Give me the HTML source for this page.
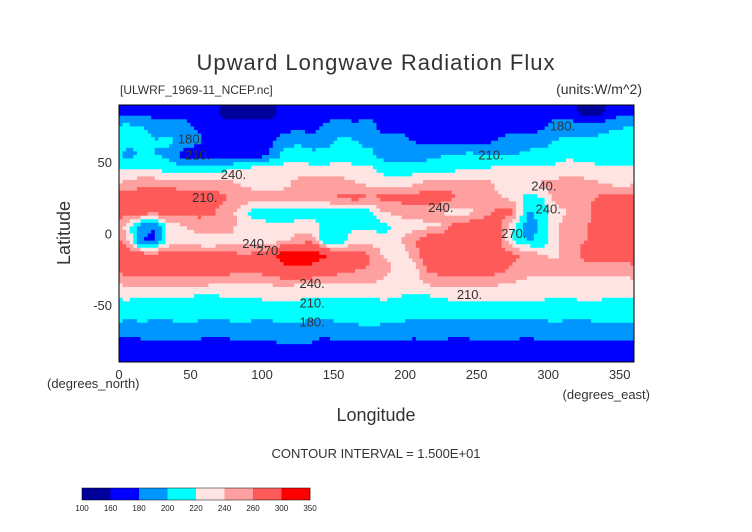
<!DOCTYPE html>
<html><head><meta charset="utf-8"><style>
html,body{margin:0;padding:0;background:#fff;}
svg{display:block;font-family:"Liberation Sans",sans-serif;}
</style></head><body>
<svg id="chart" width="752" height="532" viewBox="0 0 752 532">
<text x="376" y="70" font-size="22" text-anchor="middle" fill="#333" letter-spacing="1">Upward Longwave Radiation Flux</text>
<text x="120" y="94" font-size="12" fill="#333">[ULWRF_1969-11_NCEP.nc]</text>
<text x="642" y="94" font-size="14" text-anchor="end" fill="#333">(units:W/m^2)</text>
<g id="plot"></g>
<g id="labels"></g>
<rect x="119" y="105" width="515" height="257" fill="none" stroke="#000" stroke-width="1"/>
<g id="axes"></g>
<text x="70" y="233" font-size="18" text-anchor="middle" fill="#333" transform="rotate(-90 70 233)">Latitude</text>
<text x="47" y="388" font-size="13" fill="#333">(degrees_north)</text>
<text x="650" y="399" font-size="13" text-anchor="end" fill="#333">(degrees_east)</text>
<text x="376" y="421" font-size="18" text-anchor="middle" fill="#333">Longitude</text>
<text x="376" y="458" font-size="13" text-anchor="middle" fill="#333">CONTOUR INTERVAL = 1.500E+01</text>
<g id="cbar"></g>
</svg>
<script>
const lons=[5,15,25,35,45,55,65,75,85,95,105,115,125,135,145,155,165,175,185,195,205,215,225,235,245,255,265,275,285,295,305,315,325,335,345,355];
const lats=[85,75,65,55,45,35,25,15,5,-5,-15,-25,-35,-45,-55,-65,-75,-85];
const values=[
[170,170,170,170,170,170,170,150,150,150,150,170,170,170,170,170,170,170,170,170,170,170,170,170,170,170,170,170,170,170,170,170,150,150,170,170],
[205,200,195,190,190,175,170,170,170,170,170,170,175,170,185,190,185,190,170,170,170,170,170,170,170,170,175,170,170,175,190,190,190,190,195,200],
[205,205,200,205,190,188,168,165,165,168,175,190,195,190,195,205,200,195,190,190,180,175,175,175,175,175,180,190,190,190,200,205,205,205,210,210],
[195,200,200,195,170,165,165,165,170,168,180,205,210,205,205,210,205,205,192,192,188,192,198,198,205,198,198,198,205,210,210,215,212,210,210,210],
[220,222,220,212,210,210,210,215,225,228,228,230,228,228,228,230,228,225,212,212,210,212,215,215,220,222,225,228,228,225,225,230,228,225,225,225],
[248,252,252,255,252,248,248,248,238,230,230,232,248,248,248,248,242,235,232,232,235,248,252,252,252,248,235,235,235,242,248,250,248,242,235,232],
[270,275,275,272,270,270,272,262,255,252,252,250,255,258,255,265,268,262,265,268,270,272,270,262,252,248,242,235,212,218,250,255,255,262,272,275],
[272,272,270,268,270,265,262,252,232,208,205,202,208,210,212,208,212,210,242,245,250,250,242,232,235,250,265,268,198,202,232,240,250,268,278,280],
[232,185,180,230,238,252,255,256,232,230,228,228,228,232,212,212,218,215,210,228,232,235,240,268,275,275,268,225,195,202,235,252,256,270,278,278],
[250,180,175,228,230,222,215,228,232,232,228,235,250,252,198,202,235,232,232,235,255,278,282,282,282,278,270,218,198,202,238,252,258,275,280,280],
[272,272,270,270,272,272,275,272,262,265,280,320,325,320,300,280,272,262,238,228,245,278,282,282,282,278,275,265,258,242,235,248,268,272,275,275],
[272,275,272,272,270,270,272,272,268,268,275,290,292,290,282,270,262,258,252,232,225,262,272,272,272,275,268,255,252,248,248,248,250,248,248,248],
[248,248,248,250,248,248,242,242,242,242,242,245,242,242,240,240,242,242,232,230,230,242,248,248,248,248,242,240,232,232,232,232,232,232,230,230],
[222,220,218,220,220,215,215,218,220,220,222,222,222,220,218,218,220,220,222,220,215,215,220,222,225,225,225,222,222,222,220,220,222,222,220,220],
[210,210,212,210,210,208,210,212,210,210,212,210,208,210,210,212,210,210,210,212,208,210,210,212,210,208,208,210,210,210,212,210,212,210,210,210],
[192,195,192,192,198,195,192,192,198,192,192,198,198,192,192,195,198,202,198,195,192,192,192,188,192,192,192,190,192,192,195,192,192,195,198,198],
[175,178,180,182,182,178,178,176,182,182,178,186,186,182,176,182,182,182,182,182,178,180,180,176,178,182,182,180,176,182,182,182,180,182,182,182],
[165,165,165,165,165,165,165,165,165,165,165,165,165,165,165,165,165,165,165,165,165,160,160,165,165,165,165,160,165,165,165,165,165,165,165,165]
];
const levels=[100,160,180,200,220,240,260,300,350];
const colors=["#00009a","#0000ff","#0096ff","#00ffff","#ffe4e4","#ffa0a0","#ff5a5a","#ff0000"];
const xTicks=[0,50,100,150,200,250,300,350];
const yTicks=[50,0,-50];
const contourLabels=[["180.",50,63],["210.",55,52],["240.",80,38],["210.",60,22],["240.",95,-10],["270.",105,-15],["240.",135,-38],["210.",135,-52],["180.",135,-65],["180.",310,72],["210.",260,52],["240.",297,30],["240.",300,14],["240.",225,15],["270.",276,-3],["210.",245,-46]];
const NS="http://www.w3.org/2000/svg";
const X0=119,X1=634,Y0=105,Y1=362;
function sx(lon){return X0+(lon/360)*(X1-X0);}
function sy(lat){return Y0+((90-lat)/180)*(Y1-Y0);}
function colorOf(v){for(let i=levels.length-2;i>=0;i--){if(v>=levels[i])return colors[i];}return colors[0];}
function mk(tag,attrs,parent){const e=document.createElementNS(NS,tag);for(const k in attrs)e.setAttribute(k,attrs[k]);parent.appendChild(e);return e;}
function field(lon,lat){
 let fc=(lon-5)/10, fr=(85-lat)/10;
 fr=Math.max(0,Math.min(lats.length-1,fr));
 const r0=Math.floor(fr), r1=Math.min(lats.length-1,r0+1), tr=fr-r0;
 let c0=Math.floor(fc), tc=fc-c0; const n=lons.length;
 const ca=((c0%n)+n)%n, cb=((c0+1)%n+n)%n;
 const a=values[r0][ca]*(1-tc)+values[r0][cb]*tc;
 const b=values[r1][ca]*(1-tc)+values[r1][cb]*tc;
 return a*(1-tr)+b*tr;
}
const plot=document.getElementById('plot');
const S=2.5;
for(let lat=90;lat>-90;lat-=S){
 let runStart=0,runCol=null;
 for(let lon=0;lon<=360;lon+=S){
  const col= lon<360 ? colorOf(field(lon+S/2,lat-S/2)) : null;
  if(col!==runCol){
   if(runCol!==null){
    const x=sx(runStart),y=sy(lat);
    const el=mk('rect',{x:x,y:y,width:sx(lon)-x+0.4,height:sy(lat-S)-y+0.4,fill:runCol},plot);
    
    
   }
   runCol=col;runStart=lon;
  }
 }
}
const lab=document.getElementById('labels');
contourLabels.forEach(l=>{const t=mk('text',{x:sx(l[1]),y:sy(l[2]),'font-size':13,'text-anchor':'middle',fill:'#333'},lab);t.textContent=l[0];
 
 });
const ax=document.getElementById('axes');
xTicks.forEach(v=>{const t=mk('text',{x:sx(v),y:379,'font-size':13,'text-anchor':'middle',fill:'#333'},ax);t.textContent=v;
 
 });
yTicks.forEach(v=>{const t=mk('text',{x:112,y:sy(v)+5,'font-size':13,'text-anchor':'end',fill:'#333'},ax);t.textContent=v;
 
 });
const cb=document.getElementById('cbar');
const cw=(310-82)/colors.length;
colors.forEach((c,i)=>{const r=mk('rect',{x:82+i*cw,y:488,width:cw+0.3,height:12,fill:c},cb);
 
 });
mk('rect',{x:82,y:488,width:228,height:12,fill:'none',stroke:'#000','stroke-width':0.5},cb);
levels.forEach((v,i)=>{const t=mk('text',{x:82+i*cw,y:511,'font-size':8,'text-anchor':'middle',fill:'#222'},cb);t.textContent=v;
 
 });
</script>
</body></html>
